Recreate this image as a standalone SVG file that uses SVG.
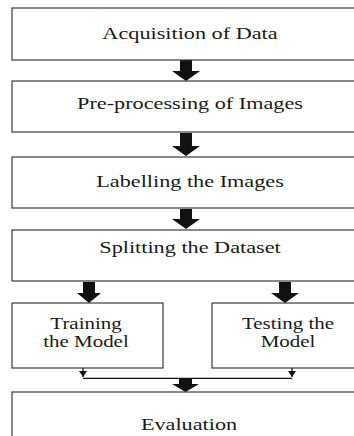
<svg xmlns="http://www.w3.org/2000/svg" width="354" height="436" viewBox="0 0 354 436">
<defs>
<style>
.box{fill:#fff;stroke:#3a3a3a;stroke-width:1.2}
text{font-family:'Liberation Serif','DejaVu Serif',serif;font-size:17.5px;fill:#1a1a1a;text-anchor:middle}
text.s{font-size:16.5px}
.big{fill:#111;stroke:none}
.thin{fill:none;stroke:#111;stroke-width:1.3}
</style>
<marker id="ah" viewBox="0 0 6 8" refX="6" refY="4" markerWidth="6" markerHeight="8" markerUnits="userSpaceOnUse" orient="auto">
<path d="M0,0 L6,4 L0,8 Z" fill="#111"/>
</marker>
</defs>
<rect width="354" height="436" fill="#fff"/>
<g id="connectors">
<polygon class="big" points="180,60 192,60 192,71 200,71 186,81 172,71 180,71"/>
<polygon class="big" points="180,133 192,133 192,146 200,146 186,156 172,146 180,146"/>
<polygon class="big" points="180,209 192,209 192,219 200,219 186,229 172,219 180,219"/>
<polygon class="big" points="83,282 95,282 95,293 101,293 89,303 77,293 83,293"/>
<polygon class="big" points="279,282 291,282 291,293 299,293 285,303 271,293 279,293"/>
<path class="thin" d="M83,368 V377" marker-end="url(#ah)"/>
<path class="thin" d="M292,368 V377" marker-end="url(#ah)"/>
<path class="thin" d="M83,378.3 H292"/>
<polygon class="big" points="179,379 192,379 192,384 199,384 185.5,392 172,384 179,384"/>
</g>
<g id="n1"><rect class="box" x="12" y="8" width="360" height="52"/>
<text font-family="Liberation Serif, serif" transform="translate(190,39) scale(1.27,1)">Acquisition of Data</text></g>
<g id="n2"><rect class="box" x="12" y="81" width="360" height="51"/>
<text font-family="Liberation Serif, serif" transform="translate(190,109) scale(1.27,1)">Pre-processing of Images</text></g>
<g id="n3"><rect class="box" x="12" y="157" width="360" height="51"/>
<text font-family="Liberation Serif, serif" transform="translate(190,187) scale(1.27,1)">Labelling the Images</text></g>
<g id="n4"><rect class="box" x="12" y="230" width="360" height="51"/>
<text font-family="Liberation Serif, serif" transform="translate(190,253) scale(1.27,1)">Splitting the Dataset</text></g>
<g id="n5"><rect class="box" x="12" y="303" width="151" height="65"/>
<text class="s" font-family="Liberation Serif, serif" transform="translate(86,329) scale(1.27,1)">Training</text>
<text class="s" font-family="Liberation Serif, serif" transform="translate(86,347) scale(1.27,1)">the Model</text></g>
<g id="n6"><rect class="box" x="212" y="303" width="160" height="65"/>
<text class="s" font-family="Liberation Serif, serif" transform="translate(288,329) scale(1.27,1)">Testing the</text>
<text class="s" font-family="Liberation Serif, serif" transform="translate(288,347) scale(1.27,1)">Model</text></g>
<g id="n7"><rect class="box" x="12" y="392" width="360" height="60"/>
<text font-family="Liberation Serif, serif" transform="translate(189,430) scale(1.27,1)">Evaluation</text></g>
</svg>
